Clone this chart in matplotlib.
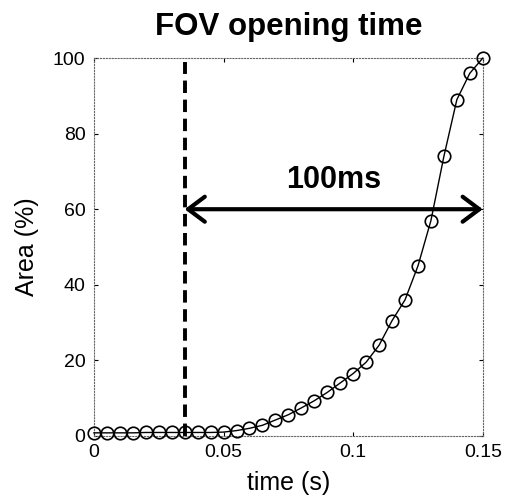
import numpy as np
import matplotlib
matplotlib.use("Agg")
import matplotlib.pyplot as plt

plt.rcParams['font.family'] = ['Liberation Sans', 'DejaVu Sans']

time_s = [0.000, 0.005, 0.010, 0.015, 0.020, 0.025, 0.030, 0.035, 0.040, 0.045,
          0.050, 0.055, 0.060, 0.065, 0.070, 0.075, 0.080, 0.085, 0.090, 0.095,
          0.100, 0.105, 0.110, 0.115, 0.120, 0.125, 0.130, 0.135, 0.140, 0.145, 0.150]
area_pct = [0.8, 0.8, 0.8, 0.8, 0.9, 0.9, 0.9, 0.9, 0.9, 0.9,
            1.0, 1.4, 2.0, 2.8, 4.2, 5.6, 7.4, 9.3, 11.5, 14.0,
            16.5, 19.5, 24.0, 30.5, 36.0, 45.0, 57.0, 74.0, 89.0, 96.0, 100.0]
x_ticks = [0, 0.05, 0.1, 0.15]
x_tick_labels = ["0", "0.05", "0.1", "0.15"]
y_ticks = [0, 20, 40, 60, 80, 100]
onset_time = 0.035
end_time = 0.15
arrow_level = 60
arrow_label = "100ms"

fig = plt.figure(figsize=(5.05, 5.01), dpi=100)
ax = fig.add_axes([0.186, 0.13, 0.770, 0.754])

ax.plot(time_s, area_pct, color='black', lw=1.0, marker='o', ms=9,
        mfc='none', mec='black', mew=1.2, clip_on=False, zorder=3)

ax.plot([onset_time, onset_time], [0, 99], color='black', lw=2.8,
        linestyle=(0, (3.2, 1.7)), zorder=2)

ax.annotate('', xy=(end_time, arrow_level), xytext=(onset_time, arrow_level),
            arrowprops=dict(arrowstyle='<->,head_length=1.2,head_width=0.9',
                            color='black', lw=3, shrinkA=0, shrinkB=0))
ax.text((onset_time + end_time) / 2, arrow_level + 3.8, arrow_label,
        ha='center', va='bottom', fontsize=22, fontweight='bold')

ax.set_xlim(0, 0.15)
ax.set_ylim(0, 100)
ax.set_xticks(x_ticks)
ax.set_xticklabels(x_tick_labels)
ax.set_yticks(y_ticks)
ax.tick_params(direction='in', length=3, width=0.8, labelsize=14,
               top=True, right=True, pad=6)

for s in ax.spines.values():
    s.set_linestyle(':')
    s.set_color('#666666')
    s.set_linewidth(0.8)

ax.set_xlabel('time (s)', fontsize=18, labelpad=7)
ax.set_ylabel('Area (%)', fontsize=18, labelpad=10)
ax.set_title('FOV opening time', fontsize=22.5, fontweight='bold', pad=17)

fig.savefig('out.png', dpi=100)
